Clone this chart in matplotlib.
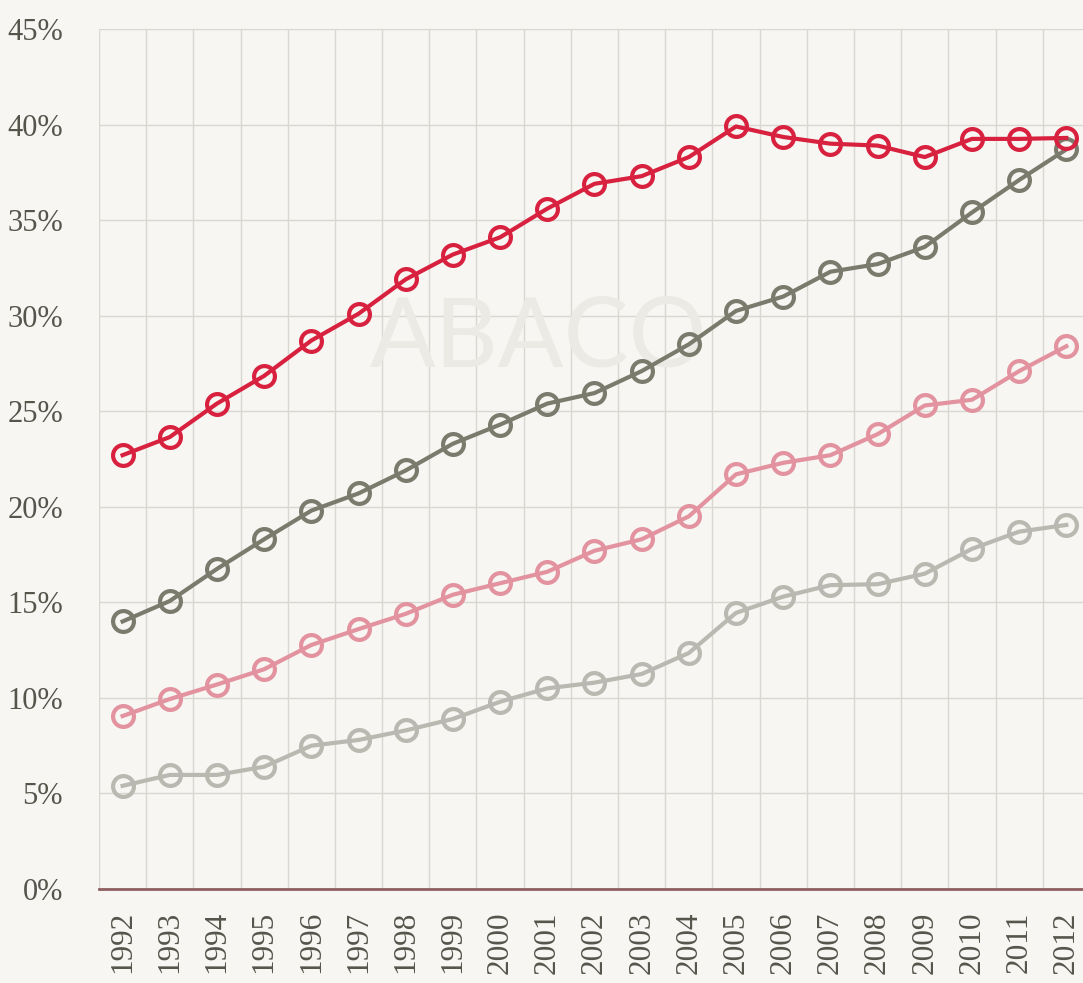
import matplotlib
matplotlib.use("Agg")
import matplotlib.pyplot as plt
from matplotlib.ticker import FixedLocator

years = list(range(1992, 2013))

red = [22.7, 23.65, 25.4, 26.85, 28.7, 30.1, 31.9, 33.2, 34.1, 35.6, 36.9,
       37.3, 38.3, 39.9, 39.35, 39.0, 38.9, 38.3, 39.25, 39.25, 39.3]
dark = [14.0, 15.07, 16.75, 18.3, 19.8, 20.7, 21.9, 23.3, 24.3, 25.4, 25.95,
        27.1, 28.5, 30.25, 31.0, 32.3, 32.7, 33.6, 35.4, 37.1, 38.7]
pink = [9.05, 9.94, 10.7, 11.5, 12.77, 13.6, 14.4, 15.4, 16.0, 16.6, 17.7,
        18.3, 19.5, 21.7, 22.3, 22.7, 23.8, 25.3, 25.6, 27.1, 28.4]
light = [5.4, 5.97, 5.97, 6.4, 7.5, 7.8, 8.3, 8.9, 9.8, 10.5, 10.8,
         11.25, 12.35, 14.45, 15.3, 15.9, 15.95, 16.5, 17.8, 18.7, 19.05]

y_ticks = list(range(0, 50, 5))
y_labels = [f"{v}%" for v in y_ticks]

bg = "#f7f6f2"
txt = "#55554c"

fig = plt.figure(figsize=(10.83, 9.83), dpi=100, facecolor=bg)
ax = fig.add_axes([0.0914, 0.0956, 0.915, 0.8749], facecolor=bg)

# watermark, under the lines
ax.text(0.497, 0.655, "ABACO", fontsize=70, color="#ebeae5", ha="center",
        va="center", family="Lato", fontweight="normal", zorder=1,
        transform=fig.transFigure)

x = list(range(len(years)))
series = [(light, "#b9b9b1"), (pink, "#e3939f"), (dark, "#7b7b6d"), (red, "#d8213f")]
for vals, col in series:
    ax.plot(x, vals, color=col, lw=3, marker="o", ms=15, mew=3,
            mfc="none", mec=col, zorder=3, clip_on=False)

ax.set_xlim(-0.5, 20.5)
ax.set_ylim(0, 45)
ax.set_xticks(x)
ax.set_xticklabels([str(y) for y in years], rotation=90, fontsize=22.5,
                   family="Liberation Serif", color=txt)
ax.xaxis.set_minor_locator(FixedLocator([i - 0.5 for i in range(22)]))
ax.set_yticks(y_ticks)
ax.set_yticklabels(y_labels, fontsize=22, family="Liberation Serif", color=txt)

ax.tick_params(axis="both", which="both", length=0)
ax.tick_params(axis="x", pad=16)
ax.tick_params(axis="y", pad=26)

ax.grid(True, axis="y", color="#d8d7d1", lw=1)
ax.grid(True, axis="x", which="minor", color="#d8d7d1", lw=1)
ax.grid(False, axis="x", which="major")
ax.set_axisbelow(True)

for s in ["top", "right", "left"]:
    ax.spines[s].set_visible(False)
ax.spines["bottom"].set_color("#8e5f60")
ax.spines["bottom"].set_linewidth(2)

fig.savefig("out.png", dpi=100, facecolor=bg)
